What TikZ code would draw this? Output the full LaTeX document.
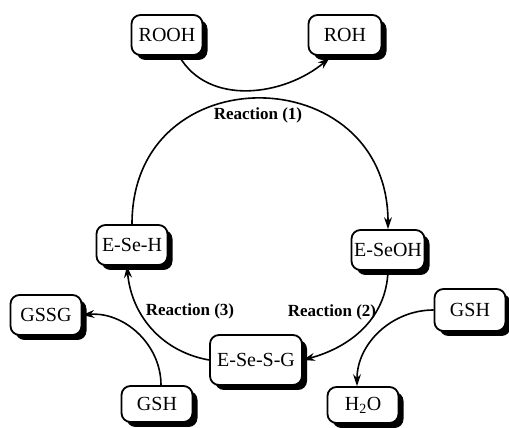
\documentclass[tikz,border=0pt]{standalone}
\usepackage{fontspec}
\setmainfont{Liberation Serif}
\usetikzlibrary{shadows,arrows.meta}

\begin{document}
\begin{tikzpicture}[x=1pt, y=1pt,
    box/.style={draw, line width=1.8pt, rounded corners=9pt, fill=white, minimum width=71pt, minimum height=40pt, inner sep=2pt, font=\fontsize{20}{23}\selectfont, drop shadow={shadow xshift=5pt, shadow yshift=-5pt, fill=black, opacity=1}},
    lbl/.style={font=\fontsize{17}{20}\selectfont\bfseries},
    arr/.style={line width=1.6pt, -{Stealth[length=12pt,width=8pt]}}]

        \useasboundingbox (0,0) rectangle (509,428);

        % Posizioni dei nodi
        \node[box] (rooh) at (167,393) {ROOH};
        \node[box, minimum width=73pt] (roh) at (345,393) {ROH};
        \node[box, minimum width=73pt] (eseoh) at (388,178) {E-SeOH};
        \node[box] (eseh) at (132,183) {E-Se-H};
        \node[box, minimum width=92pt, minimum height=50pt] (esesg) at (256,68) {E-Se-S-G};
        \node[box] (gssg) at (46,113) {GSSG};
        \node[box, minimum height=42pt] (gshr) at (470,118) {GSH};
        \node[box, minimum height=36pt] (gshl) at (157,24) {GSH};
        \node[box, minimum height=36pt] (h2o) at (363,23) {H\textsubscript{2}O};

        % Etichette
        \node[lbl] (r1) at (258,313) {Reaction (1)};
        \node[lbl] (r2) at (332,116) {Reaction (2)};
        \node[lbl] (r3) at (190,117) {Reaction (3)};

        % Frecce
        \draw[arr] ([xshift=12pt]rooh.south) to[out=-60,in=-140] ([shift={(22pt,-2pt)}]roh.south west);
        \draw[arr] (eseh.north) to[out=90,in=90,looseness=1.7] (eseoh.north);
        \draw[arr] (eseoh.south) to[out=-92,in=15] (esesg.east);
        \draw[arr] (esesg.west) to[out=170,in=-85] ([xshift=-5pt]eseh.south);
        \draw[arr] (gshr.west) to[out=180,in=90] ([xshift=-6pt]h2o.north);
        \draw[arr] ([xshift=4pt]gshl.north) to[out=90,in=5] (gssg.east);
    \end{tikzpicture}
\end{document}
